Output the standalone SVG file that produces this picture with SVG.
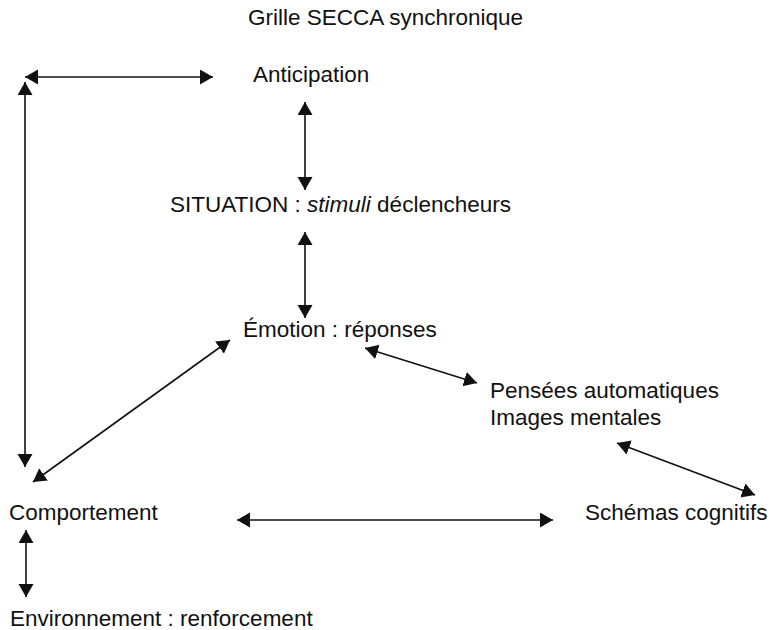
<svg xmlns="http://www.w3.org/2000/svg" width="773" height="630" viewBox="0 0 773 630">
  <style>
    text { font-family: "Liberation Sans", Arial, sans-serif; font-size: 22.5px; fill: #111; }
    .link { stroke: #111; stroke-width: 1.6; fill: none; marker-start: url(#head); marker-end: url(#head); }
  </style>
  <defs>
    <marker id="head" markerUnits="userSpaceOnUse" markerWidth="14" markerHeight="16" refX="13" refY="7.5" orient="auto-start-reverse">
      <path d="M0,0 L13,7.5 L0,15 z" fill="#111"/>
    </marker>
  </defs>
  <rect width="773" height="630" fill="#fff"/>

  <text x="248" y="25">Grille SECCA synchronique</text>

  <g id="connectors">
    <line class="link" x1="25" y1="77" x2="213" y2="77"/>
    <line class="link" x1="25" y1="82" x2="25" y2="467"/>
    <line class="link" x1="305" y1="102" x2="305" y2="190"/>
    <line class="link" x1="305" y1="232" x2="305" y2="318"/>
    <line class="link" x1="33" y1="482" x2="230" y2="340"/>
    <line class="link" x1="365" y1="348" x2="477" y2="383"/>
    <line class="link" x1="617" y1="443" x2="755" y2="495"/>
    <line class="link" x1="237" y1="520" x2="553" y2="520"/>
    <line class="link" x1="26" y1="530" x2="26" y2="597"/>
  </g>

  <g id="anticipation"><text x="253" y="82">Anticipation</text></g>
  <g id="situation"><text x="170" y="212">SITUATION : <tspan font-style="italic">stimuli</tspan> déclencheurs</text></g>
  <g id="emotion"><text x="243" y="337">Émotion : réponses</text></g>
  <g id="pensees"><text x="490" y="398">Pensées automatiques</text><text x="490" y="425">Images mentales</text></g>
  <g id="comportement"><text x="9" y="520">Comportement</text></g>
  <g id="schemas"><text x="585" y="520">Schémas cognitifs</text></g>
  <g id="environnement"><text x="10" y="626">Environnement : renforcement</text></g>
</svg>
